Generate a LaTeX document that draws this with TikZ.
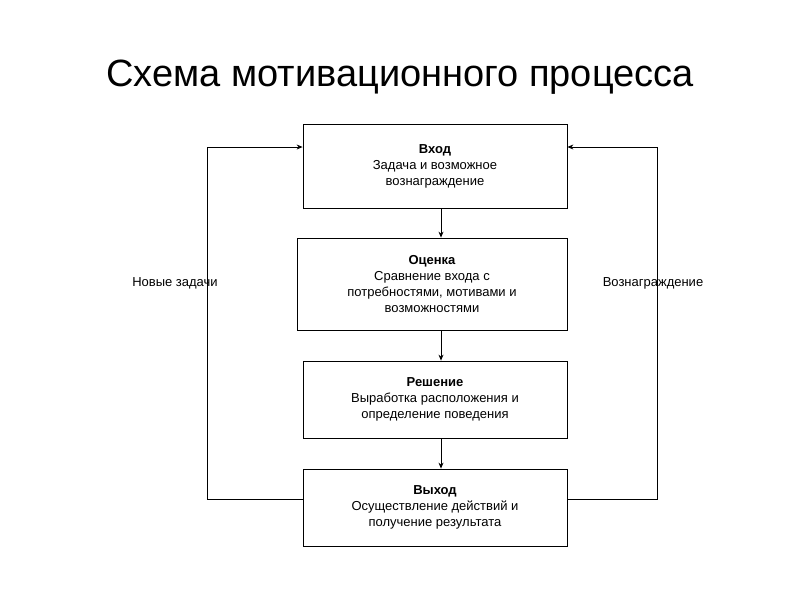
\documentclass[tikz,border=0pt]{standalone}
\usepackage{fontspec}
\setmainfont{Liberation Sans}
\usetikzlibrary{arrows.meta}
\begin{document}
\begin{tikzpicture}[x=1pt,y=-1pt,
  box/.style={draw,line width=0.8pt,align=center,font=\fontsize{13}{16}\selectfont,inner sep=0pt},
  con/.style={line width=0.8pt,-{Stealth[length=6pt,width=5pt]}},
  lab/.style={font=\fontsize{13}{16}\selectfont}]
\useasboundingbox (0,0) rectangle (800,600);
\node[font=\fontsize{38}{44}\selectfont] (title) at (400,77) {Схема мотивационного процесса};
\node[box,minimum width=264pt,minimum height=84pt] (in) at (435,166) {\textbf{Вход}\\Задача и возможное\\вознаграждение};
\node[box,minimum width=270pt,minimum height=92pt] (ev) at (432,284) {\textbf{Оценка}\\Сравнение входа с\\потребностями, мотивами и\\возможностями};
\node[box,minimum width=264pt,minimum height=77pt] (dec) at (435,399.5) {\textbf{Решение}\\Выработка расположения и\\определение поведения};
\node[box,minimum width=264pt,minimum height=77pt] (out) at (435,507.5) {\textbf{Выход}\\Осуществление действий и\\получение результата};
\draw[con] (in.south -| 441,0) -- (ev.north -| 441,0);
\draw[con] (ev.south -| 441,0) -- (dec.north -| 441,0);
\draw[con] (dec.south -| 441,0) -- (out.north -| 441,0);
\coordinate (l1) at (207,499); \coordinate (l2) at (207,147);
\coordinate (r1) at (657,499); \coordinate (r2) at (657,147);
\draw[con] (out.west |- l1) -- (l1) -- (l2) -- (in.west |- l2);
\draw[con] (out.east |- r1) -- (r1) -- (r2) -- (in.east |- r2);
\node[lab] (nz) at (175,283) {Новые задачи};
\node[lab] (vz) at (653,283) {Вознаграждение};
\end{tikzpicture}
\end{document}
